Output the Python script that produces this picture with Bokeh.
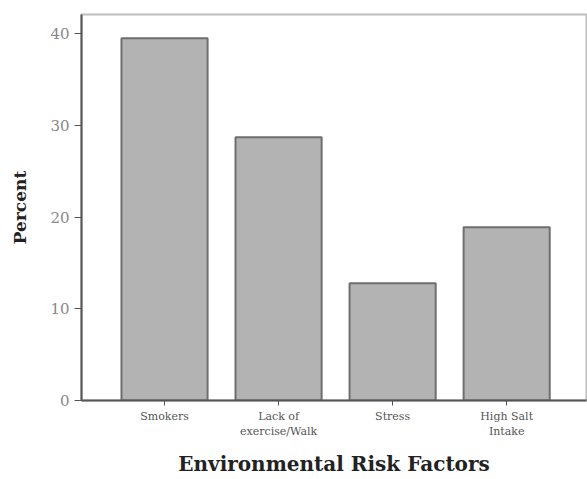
from bokeh.plotting import figure
from bokeh.models import Range1d, FixedTicker, ColumnDataSource
from bokeh.embed import file_html
from bokeh.resources import INLINE

categories = ["Smokers", "Lack of\nexercise/Walk", "Stress", "High Salt\nIntake"]
percent = [39.5, 28.7, 12.8, 18.9]
positions = [1, 2, 3, 4]
y_ticks = [0, 10, 20, 30, 40]

src = ColumnDataSource(dict(x=positions, top=percent))

p = figure(width=587, height=479, output_backend="svg", toolbar_location=None,
           x_range=Range1d(0.272, 4.70), y_range=Range1d(0, 42.1),
           min_border_left=81, min_border_right=1, min_border_top=14, min_border_bottom=78)

p.vbar(x="x", top="top", width=0.755, source=src, fill_color="#b3b3b3",
       line_color="#6e6e6e", line_width=2)

p.grid.visible = False
p.outline_line_color = "#bdbdbd"
p.outline_line_width = 2
p.background_fill_color = "white"
p.border_fill_color = "white"

p.xaxis.ticker = FixedTicker(ticks=positions)
p.xaxis.major_label_overrides = {pos: lab for pos, lab in zip(positions, categories)}
p.xaxis.axis_label = "Environmental Risk Factors"
p.xaxis.axis_label_text_font = "DejaVu Serif"
p.xaxis.axis_label_text_font_style = "bold"
p.xaxis.axis_label_text_font_size = "20px"
p.xaxis.axis_label_text_color = "#222222"
p.xaxis.axis_label_standoff = 11
p.xaxis.major_label_text_font = "DejaVu Serif"
p.xaxis.major_label_text_font_size = "11px"
p.xaxis.major_label_text_color = "#555555"
p.xaxis.major_label_standoff = 4
p.xaxis.major_tick_out = 5
p.xaxis.major_tick_in = 0
p.xaxis.minor_tick_line_color = None
p.xaxis.axis_line_color = "#555555"
p.xaxis.axis_line_width = 2
p.xaxis.major_tick_line_color = "#555555"

p.yaxis.ticker = FixedTicker(ticks=y_ticks)
p.yaxis.axis_label = "Percent"
p.yaxis.axis_label_text_font = "DejaVu Serif"
p.yaxis.axis_label_text_font_style = "bold"
p.yaxis.axis_label_text_font_size = "17px"
p.yaxis.axis_label_text_color = "#222222"
p.yaxis.axis_label_standoff = 17
p.yaxis.major_label_text_font = "DejaVu Serif"
p.yaxis.major_label_text_font_size = "15px"
p.yaxis.major_label_text_color = "#888888"
p.yaxis.major_label_standoff = 5
p.yaxis.major_tick_out = 7
p.yaxis.major_tick_in = 0
p.yaxis.minor_tick_line_color = None
p.yaxis.axis_line_color = "#555555"
p.yaxis.axis_line_width = 2
p.yaxis.major_tick_line_color = "#555555"

open("out.html", "w").write(file_html(p, INLINE))
